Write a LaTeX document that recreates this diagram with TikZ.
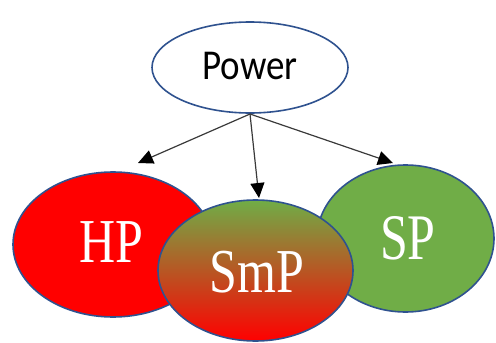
\documentclass[tikz,border=0pt]{standalone}
\usepackage{fontspec}
\usepackage{graphicx}
\setmainfont{Liberation Serif}
\newfontfamily\labelsans{Carlito}
\usetikzlibrary{arrows.meta,shapes.geometric}
\definecolor{officegreen}{HTML}{70AD47}
\definecolor{rimblue}{HTML}{2F528F}
\definecolor{linkgray}{HTML}{3A3A3A}

\begin{document}
\begin{tikzpicture}[x=1pt,y=-1pt,
  blob/.style={ellipse, draw=rimblue, line width=1.6pt, inner sep=0pt},
  serifword/.style={text=white, font=\fontsize{50}{50}\selectfont},
  link/.style={draw=linkgray, line width=1.2pt,
    -{Triangle[length=15pt,width=14pt,color=black]}}]
  \useasboundingbox (0,0) rectangle (496,343);

  % the three categories
  \node[blob, fill=red, minimum width=200pt, minimum height=145pt] (hp) at (113,244.5) {};
  \node[blob, fill=officegreen, minimum width=177pt, minimum height=147pt] (sp) at (405.5,238.5) {};
  \node[blob, top color=officegreen, bottom color=red, minimum width=195pt, minimum height=141pt] (smp) at (255.5,270.5) {};

  \node[serifword] (hplabel) at (111,242) {\scalebox{1}[1.25]{HP}};
  \node[serifword] (smplabel) at (257,272) {\scalebox{1}[1.25]{SmP}};
  \node[serifword] (splabel) at (408,238) {\scalebox{1}[1.3]{SP}};

  % the parent node
  \node[blob, fill=white, minimum width=196pt, minimum height=91pt,
        font=\labelsans\fontsize{37}{37}\selectfont] (power) at (250,67.5)
        {\raisebox{4pt}{\scalebox{1}[1.15]{Power}}};

  % arrow ends just above each category
  \coordinate (hptip) at (138,163);
  \coordinate (smptip) at (259,198);
  \coordinate (sptip) at (393,163);
  \coordinate (root) at (250,114);

  \draw[link] (root) -- (hptip);
  \draw[link] (root) -- (smptip);
  \draw[link] (root) -- (sptip);
\end{tikzpicture}
\end{document}
